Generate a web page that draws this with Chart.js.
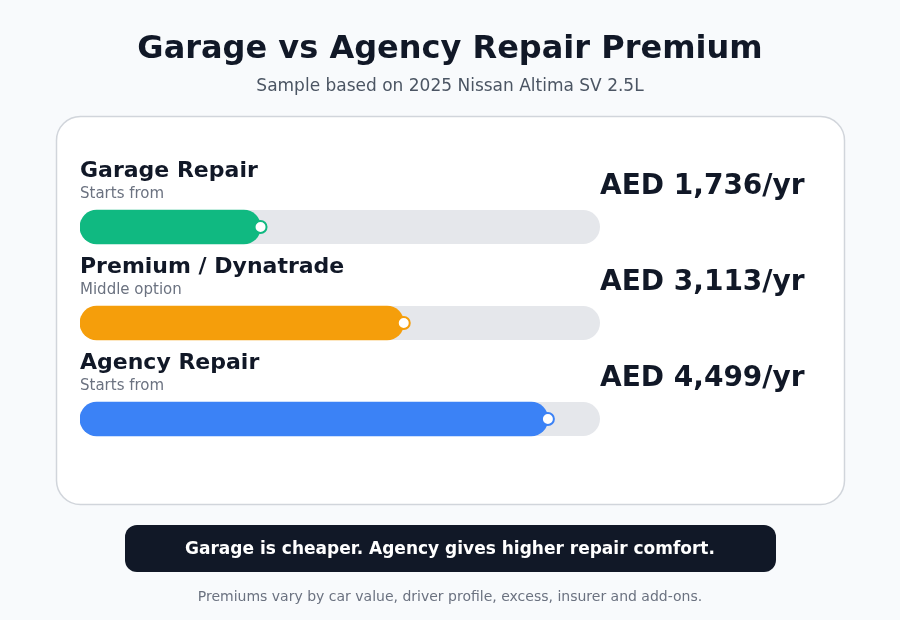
<!DOCTYPE html>
<html>
<head>
<meta charset="utf-8">
<script src="https://cdn.jsdelivr.net/npm/chart.js@4.4.1/dist/chart.umd.min.js"></script>
<style>
  html, body { margin: 0; padding: 0; background: #f8fafc; }
  #wrap { width: 900px; height: 620px; position: relative; }
</style>
</head>
<body>
<div id="wrap"><canvas id="c" width="900" height="620"></canvas></div>
<script>
const categories = ['Garage Repair', 'Premium / Dynatrade', 'Agency Repair'];
const subLabels = ['Starts from', 'Middle option', 'Starts from'];
const premiums = [1736, 3113, 4499];
const valueLabels = ['AED 1,736/yr', 'AED 3,113/yr', 'AED 4,499/yr'];
const barColors = ['#10b981', '#f59e0b', '#3b82f6'];
const scaleMax = 5000;

const titleText = 'Garage vs Agency Repair Premium';
const subtitleText = 'Sample based on 2025 Nissan Altima SV 2.5L';
const bannerText = 'Garage is cheaper. Agency gives higher repair comfort.';
const footerText = 'Premiums vary by car value, driver profile, excess, insurer and add-ons.';

const FONT = '"DejaVu Sans", Verdana, sans-serif';

function roundRect(ctx, x, y, w, h, r) {
  ctx.beginPath();
  ctx.moveTo(x + r, y);
  ctx.lineTo(x + w - r, y);
  ctx.arcTo(x + w, y, x + w, y + r, r);
  ctx.lineTo(x + w, y + h - r);
  ctx.arcTo(x + w, y + h, x + w - r, y + h, r);
  ctx.lineTo(x + r, y + h);
  ctx.arcTo(x, y + h, x, y + h - r, r);
  ctx.lineTo(x, y + r);
  ctx.arcTo(x, y, x + r, y, r);
  ctx.closePath();
}

const decor = {
  id: 'decor',
  beforeDraw(chart) {
    const ctx = chart.ctx;
    ctx.save();
    ctx.fillStyle = '#f8fafc';
    ctx.fillRect(0, 0, chart.width, chart.height);
    // card
    roundRect(ctx, 56.5, 116.5, 788, 388, 24);
    ctx.fillStyle = '#ffffff';
    ctx.fill();
    ctx.strokeStyle = '#d1d5db';
    ctx.lineWidth = 1.5;
    ctx.stroke();
    // title
    ctx.textAlign = 'center';
    ctx.textBaseline = 'middle';
    ctx.fillStyle = '#111827';
    ctx.font = 'bold 32px ' + FONT;
    ctx.fillText(titleText, 450, 50);
    ctx.fillStyle = '#4b5563';
    ctx.font = '17px ' + FONT;
    ctx.fillText(subtitleText, 450, 87);
    // banner
    roundRect(ctx, 125, 525, 651, 47, 12);
    ctx.fillStyle = '#111827';
    ctx.fill();
    ctx.fillStyle = '#ffffff';
    ctx.font = 'bold 17px ' + FONT;
    ctx.fillText(bannerText, 450, 550);
    ctx.fillStyle = '#6b7280';
    ctx.font = '14px ' + FONT;
    ctx.fillText(footerText, 450, 597);
    ctx.restore();
  },
  beforeDatasetsDraw(chart) {
    const ctx = chart.ctx;
    const xs = chart.scales.x, ys = chart.scales.y;
    const x0 = xs.getPixelForValue(0), x1 = xs.getPixelForValue(scaleMax);
    ctx.save();
    categories.forEach((cat, i) => {
      const yc = ys.getPixelForTick(i);
      // track
      roundRect(ctx, x0, yc - 17, x1 - x0, 34, 17);
      ctx.fillStyle = '#e5e7eb';
      ctx.fill();
      // labels
      ctx.textAlign = 'left';
      ctx.textBaseline = 'middle';
      ctx.fillStyle = '#111827';
      ctx.font = 'bold 22px ' + FONT;
      ctx.fillText(cat, x0, yc - 56);
      ctx.fillStyle = '#6b7280';
      ctx.font = '15px ' + FONT;
      ctx.fillText(subLabels[i], x0, yc - 33);
      ctx.fillStyle = '#111827';
      ctx.font = 'bold 28px ' + FONT;
      ctx.fillText(valueLabels[i], x1, yc - 40);
    });
    ctx.restore();
  }
};

new Chart(document.getElementById('c'), {
  type: 'bar',
  data: {
    labels: categories,
    datasets: [
      {
        type: 'line',
        indexAxis: 'y',
        data: premiums,
        showLine: false,
        pointRadius: 6,
        pointBorderWidth: 2,
        pointBackgroundColor: '#ffffff',
        pointBorderColor: barColors,
        order: 0
      },
      {
        type: 'bar',
        data: premiums,
        backgroundColor: barColors,
        barThickness: 34,
        borderRadius: 17,
        borderSkipped: false,
        order: 1
      }
    ]
  },
  options: {
    indexAxis: 'y',
    responsive: false,
    animation: false,
    events: [],
    layout: { padding: { left: 80, right: 300, top: 179, bottom: 153 } },
    plugins: { legend: { display: false }, tooltip: { enabled: false }, title: { display: false } },
    scales: {
      x: { display: false, min: 0, max: scaleMax },
      y: { display: false, offset: true }
    }
  },
  plugins: [decor]
});
</script>
</body>
</html>
